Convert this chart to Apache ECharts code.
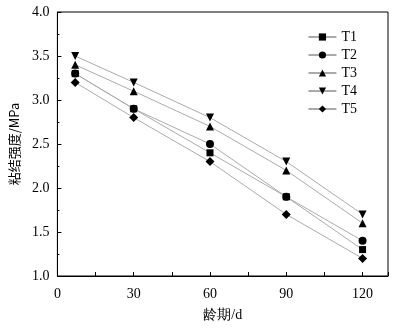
<!DOCTYPE html>
<html><head><meta charset="utf-8">
<script src="https://cdn.jsdelivr.net/npm/echarts@6/dist/echarts.min.js"></script>
<style>html,body{margin:0;padding:0;background:#fff}#c{width:396px;height:328px}</style>
</head><body><div id="c"></div>
<script>
const ages = [7, 30, 60, 90, 120];
const names = ['T1', 'T2', 'T3', 'T4', 'T5'];
const T1 = [3.3, 2.9, 2.4, 1.9, 1.3];
const T2 = [3.3, 2.9, 2.5, 1.9, 1.4];
const T3 = [3.4, 3.1, 2.7, 2.2, 1.6];
const T4 = [3.5, 3.2, 2.8, 2.3, 1.7];
const T5 = [3.2, 2.8, 2.3, 1.7, 1.2];
const values = [T1, T2, T3, T4, T5];
const symbols = ['rect', 'circle', 'triangle', 'triangle', 'diamond'];
const rotates = [0, 0, 0, 180, 0];
const sizes = [7, 8, 8, 8, 9];
const font = 'Liberation Serif, Times New Roman, serif';
const chart = echarts.init(document.getElementById('c'));
chart.setOption({
  animation: false,
  textStyle: {fontFamily: font},
  grid: {left: 55, right: 8, top: 12, bottom: 52, show: true, borderColor: '#000', borderWidth: 1},
  legend: {
    orient: 'vertical', right: 34, top: 25, itemGap: 4, itemWidth: 28, itemHeight: 9,
    textStyle: {fontFamily: font, fontSize: 14, color: '#000'},
    data: names
  },
  xAxis: {
    type: 'value', min: 0, max: 130, interval: 15,
    name: '龄期/d', nameLocation: 'middle', nameGap: 32,
    nameTextStyle: {fontFamily: font, fontSize: 14, color: '#000'},
    axisLine: {onZero: false, lineStyle: {color: '#000'}},
    axisTick: {inside: true, length: 4, lineStyle: {color: '#000'}},
    axisLabel: {color: '#000', fontSize: 14, fontFamily: font, margin: 11,
      formatter: v => (v % 30 === 0 ? String(v) : '')},
    splitLine: {show: false}
  },
  yAxis: {
    type: 'value', min: 1.0, max: 4.0, interval: 0.5,
    name: '粘结强度/MPa', nameLocation: 'middle', nameGap: 36,
    nameTextStyle: {fontFamily: 'Noto Sans CJK SC, ' + font, fontSize: 13, color: '#000'},
    axisLine: {show: true, lineStyle: {color: '#000'}},
    axisTick: {inside: true, length: 4, lineStyle: {color: '#000'}},
    minorTick: {show: true, splitNumber: 2, length: 2, lineStyle: {color: '#000'}},
    axisLabel: {color: '#000', fontSize: 14, fontFamily: font, margin: 8, formatter: v => v.toFixed(1)},
    splitLine: {show: false}
  },
  series: names.map((n, i) => ({
    name: n, type: 'line',
    data: ages.map((a, j) => [a, values[i][j]]),
    symbol: symbols[i], symbolRotate: rotates[i], symbolSize: sizes[i],
    showAllSymbol: true,
    lineStyle: {color: '#aaa', width: 1},
    itemStyle: {color: '#000'},
    emphasis: {disabled: true}
  }))
});
</script></body></html>
